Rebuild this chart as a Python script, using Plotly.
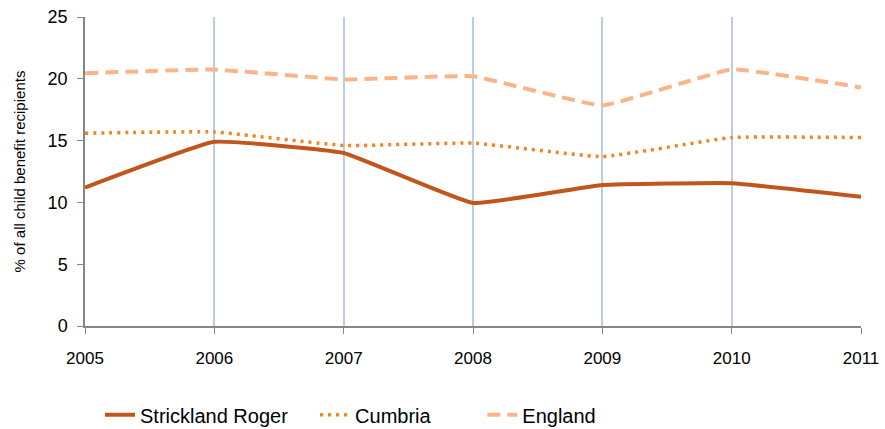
import plotly.graph_objects as go

years = [2005, 2006, 2007, 2008, 2009, 2010, 2011]
strickland = [11.2, 14.9, 14.0, 9.95, 11.4, 11.55, 10.45]
cumbria = [15.6, 15.7, 14.6, 14.8, 13.7, 15.25, 15.25]
england = [20.45, 20.75, 19.95, 20.2, 17.85, 20.75, 19.3]
names = ["Strickland Roger", "Cumbria", "England"]
colors = ["#C0561B", "#F58220", "#F9B589"]
dashes = ["solid", "3px,5px", "13px,7px"]
widths = [4, 3.5, 4]
series = [strickland, cumbria, england]
legend_ids = ["legend", "legend2", "legend3"]
legend_x = [0.113, 0.356, 0.545]

fig = go.Figure()
for n, s, c, d, w, lg in zip(names, series, colors, dashes, widths, legend_ids):
    fig.add_trace(go.Scatter(
        x=years, y=s, name=n, mode="lines",
        line=dict(color=c, width=w, dash=d, shape="spline", smoothing=0.3),
        legend=lg,
    ))

leg_common = dict(orientation="h", yanchor="middle", xanchor="left",
                  xref="container", yref="container",
                  font=dict(family="Liberation Sans, Arial", size=20, color="#000000"),
                  bgcolor="rgba(0,0,0,0)", itemwidth=30)
layouts = {}
for lg, lx in zip(legend_ids, legend_x):
    layouts[lg] = dict(x=lx, y=0.033, **leg_common)

fig.update_layout(
    width=885, height=429,
    margin=dict(l=85, r=24, t=17, b=103, autoexpand=False),
    paper_bgcolor="white", plot_bgcolor="white",
    font=dict(family="Liberation Sans, Arial", size=17, color="#000000"),
    showlegend=True,
    **layouts,
)
fig.update_xaxes(
    range=[2005, 2011], tickvals=years, ticktext=[str(y) for y in years],
    showgrid=True, gridcolor="#B9CDE5", gridwidth=1.5,
    showline=True, linecolor="#868686", linewidth=1.5,
    ticks="outside", ticklen=6, tickcolor="#868686",
    ticklabelstandoff=10, zeroline=False, automargin=False,
    tickfont=dict(size=17),
)
fig.update_yaxes(
    range=[0, 25], tickvals=[0, 5, 10, 15, 20, 25],
    showgrid=False, showline=True, linecolor="#868686", linewidth=1.5,
    ticks="outside", ticklen=6, tickcolor="#868686", zeroline=False,
    ticklabelstandoff=6, automargin=False,
    tickfont=dict(size=18),
    title=dict(text="% of all child benefit recipients", font=dict(size=15), standoff=18),
)
fig.write_html("out.html", config={"displayModeBar": False},
               post_script="document.body.style.margin='0';document.body.style.overflow='hidden';")
